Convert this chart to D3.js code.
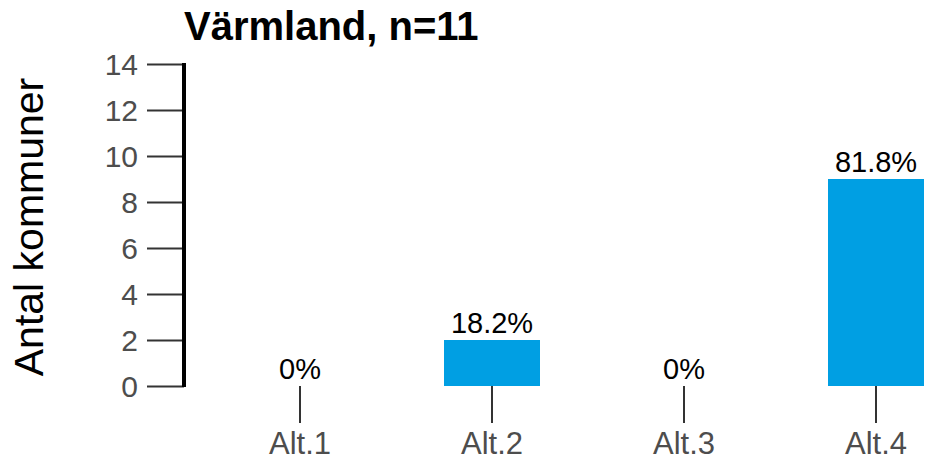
<!DOCTYPE html>
<html>
<head>
<meta charset="utf-8">
<script src="https://cdn.jsdelivr.net/npm/d3@7"></script>
<style>
    body { margin: 0; background: #fff; }
    text { font-family: "Liberation Sans", Arial, sans-serif; }
</style>
</head>
<body>
<div id="chart"></div>
<script>
// Chart data
const categories = ['Alt.1', 'Alt.2', 'Alt.3', 'Alt.4'];
const counts = [0, 2, 0, 9];
const percentLabels = ['0%', '18.2%', '0%', '81.8%'];
const yTicks = [0, 2, 4, 6, 8, 10, 12, 14];

const width = 925;
const height = 462;

const svg = d3.select('#chart')
    .append('svg')
    .attr('width', width)
    .attr('height', height);

// Scales
const xScale = d3.scaleBand()
    .domain(categories)
    .range([156, 1020])
    .padding(0.5);

const yScale = d3.scaleLinear()
    .domain([0, 14])
    .range([386, 64]);

// Bars
svg.selectAll('rect.bar')
    .data(categories)
    .enter()
    .append('rect')
    .attr('class', 'bar')
    .attr('x', d => xScale(d))
    .attr('y', (d, i) => yScale(counts[i]))
    .attr('width', xScale.bandwidth())
    .attr('height', (d, i) => yScale(0) - yScale(counts[i]))
    .attr('fill', '#009FE3');

// Percent labels above bars
svg.selectAll('text.pct')
    .data(categories)
    .enter()
    .append('text')
    .attr('class', 'pct')
    .attr('x', d => xScale(d) + xScale.bandwidth() / 2)
    .attr('y', (d, i) => yScale(counts[i]) - 7)
    .attr('text-anchor', 'middle')
    .attr('font-size', 29)
    .attr('fill', '#000')
    .text((d, i) => percentLabels[i]);

// Y axis
const yAxis = d3.axisLeft(yScale)
    .tickValues(yTicks)
    .tickSize(37)
    .tickPadding(9);

const yG = svg.append('g')
    .attr('transform', 'translate(184,0)')
    .call(yAxis);
yG.select('.domain').remove();
yG.selectAll('.tick line').attr('stroke', '#333').attr('stroke-width', 2);
yG.selectAll('.tick text')
    .attr('font-size', 30)
    .attr('fill', '#4D4D4D')
    .attr('dy', '0.35em')
    .style('font-family', '"Liberation Sans", Arial, sans-serif');

// thick vertical axis line
svg.append('line')
    .attr('x1', 184)
    .attr('x2', 184)
    .attr('y1', yScale(14) - 1)
    .attr('y2', yScale(0) + 1)
    .attr('stroke', '#000')
    .attr('stroke-width', 4);

// X axis (ticks and labels only)
const xAxis = d3.axisBottom(xScale)
    .tickSize(37)
    .tickPadding(9);

const xG = svg.append('g')
    .attr('transform', `translate(0,${yScale(0)})`)
    .call(xAxis);
xG.select('.domain').remove();
xG.selectAll('.tick line').attr('stroke', '#333').attr('stroke-width', 2);
xG.selectAll('.tick text')
    .attr('font-size', 31)
    .attr('fill', '#4D4D4D')
    .attr('dy', '0.71em')
    .style('font-family', '"Liberation Sans", Arial, sans-serif');

// Title
svg.append('text')
    .attr('x', 184)
    .attr('y', 40)
    .attr('font-size', 40)
    .attr('font-weight', 'bold')
    .attr('fill', '#000')
    .text('Värmland, n=11');

// Y axis label
svg.append('text')
    .attr('transform', 'rotate(-90)')
    .attr('x', -227)
    .attr('y', 43)
    .attr('text-anchor', 'middle')
    .attr('font-size', 41)
    .attr('fill', '#000')
    .text('Antal kommuner');
</script>
</body>
</html>
